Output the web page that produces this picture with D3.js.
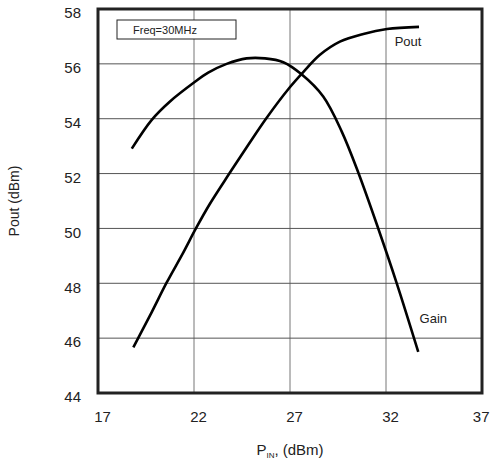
<!DOCTYPE html>
<html>
<head>
<meta charset="utf-8">
<script src="https://cdn.jsdelivr.net/npm/d3@7"></script>
<style>
  html, body { margin: 0; padding: 0; background: #fff; }
  text { font-family: "Liberation Sans", Arial, sans-serif; fill: #222; }
</style>
</head>
<body>
<div id="chart"></div>
<script>
// ── Data ──────────────────────────────────────────────────────────────

const xTicks = [17, 22, 27, 32, 37];
const yTicks = [44, 46, 48, 50, 52, 54, 56, 58];

const gainPin = [18.76, 19.8, 20.75, 22.0, 22.74, 23.7, 24.74, 25.7, 26.65, 27.6, 28.73, 29.69, 30.56, 31.6, 32.56, 33.68];
const gainVal = [52.91, 53.96, 54.63, 55.32, 55.68, 56.0, 56.2, 56.2, 56.06, 55.62, 54.81, 53.54, 52.03, 49.99, 48.0, 45.5];

const poutPin = [18.84, 19.8, 20.58, 21.44, 22.1, 22.83, 23.84, 24.83, 25.75, 26.96, 27.69, 28.56, 29.6, 30.82, 32.05, 33.72];
const poutVal = [45.66, 46.95, 48.03, 49.12, 50.0, 50.9, 52.0, 53.05, 54.0, 55.12, 55.7, 56.33, 56.81, 57.09, 57.27, 57.35];

const seriesNames = ["Gain", "Pout"];
const legendText = "Freq=30MHz";

// ── Setup ─────────────────────────────────────────────────────────────

const W = 490, H = 460;
const m = { left: 98, right: 8, top: 9, bottom: 67 };

const svg = d3.select("#chart").append("svg").attr("width", W).attr("height", H);

const x = d3.scaleLinear().domain([17, 37]).range([m.left, W - m.right]);
const y = d3.scaleLinear().domain([44, 58]).range([H - m.bottom, m.top]);

// ── Grid ──────────────────────────────────────────────────────────────

const grid = svg.append("g");
grid.selectAll("line.v").data(xTicks.slice(1, -1)).join("line").attr("class", "v")
  .attr("x1", d => x(d)).attr("x2", d => x(d))
  .attr("y1", y(44)).attr("y2", y(58))
  .attr("stroke", "#777").attr("stroke-width", 1);
grid.selectAll("line.h").data(yTicks.slice(1, -1)).join("line").attr("class", "h")
  .attr("x1", x(17)).attr("x2", x(37))
  .attr("y1", d => y(d)).attr("y2", d => y(d))
  .attr("stroke", "#555").attr("stroke-width", 1);

// ── Axes (labels only, frame drawn separately) ────────────────────────

const xAxis = svg.append("g").attr("transform", `translate(4,${y(44)})`)
  .call(d3.axisBottom(x).tickValues(xTicks).tickSize(0).tickPadding(18));
const yAxis = svg.append("g").attr("transform", `translate(${x(17) - 17},4)`)
  .call(d3.axisLeft(y).tickValues(yTicks).tickSize(0).tickPadding(0));
[xAxis, yAxis].forEach(g => {
  g.select(".domain").remove();
  g.selectAll("text").attr("font-size", 15).attr("fill", "#222")
    .attr("font-family", "Liberation Sans, Arial, sans-serif");
});
// last x label sits against the right edge
xAxis.selectAll(".tick").filter(d => d === 37).select("text")
  .attr("text-anchor", "end").attr("x", W - 1 - x(37) - 4);

// ── Frame ─────────────────────────────────────────────────────────────

svg.append("rect")
  .attr("x", x(17)).attr("y", y(58))
  .attr("width", x(37) - x(17)).attr("height", y(44) - y(58))
  .attr("fill", "none").attr("stroke", "#222").attr("stroke-width", 3);

// ── Lines ─────────────────────────────────────────────────────────────

const line = d3.line().x(d => x(d[0])).y(d => y(d[1])).curve(d3.curveCatmullRom.alpha(0.5));
const series = [
  d3.zip(gainPin, gainVal),
  d3.zip(poutPin, poutVal),
];
svg.append("g").selectAll("path").data(series).join("path")
  .attr("d", line)
  .attr("fill", "none").attr("stroke", "#000").attr("stroke-width", 2.6)
  .attr("stroke-linejoin", "round");

// ── Curve labels ──────────────────────────────────────────────────────

svg.append("text").attr("x", x(33.75)).attr("y", y(46.55)).attr("font-size", 13).text(seriesNames[0]);
svg.append("text").attr("x", x(32.45)).attr("y", y(56.65)).attr("font-size", 13).text(seriesNames[1]);

// ── Legend box ────────────────────────────────────────────────────────

svg.append("rect").attr("x", 117).attr("y", 20).attr("width", 119).attr("height", 19)
  .attr("fill", "#fff").attr("stroke", "#222").attr("stroke-width", 1);
svg.append("text").attr("x", 133).attr("y", 34).attr("font-size", 11).text(legendText);

// ── Axis titles ───────────────────────────────────────────────────────

const xt = svg.append("text").attr("x", 290).attr("y", 455).attr("text-anchor", "middle").attr("font-size", 15);
xt.append("tspan").text("P");
xt.append("tspan").attr("font-size", 8).attr("dy", 3).text("IN");
xt.append("tspan").attr("dy", -3).text(", (dBm)");

svg.append("text").attr("transform", `translate(19,${y(51)}) rotate(-90)`)
  .attr("text-anchor", "middle").attr("font-size", 14).text("Pout (dBm)");
</script>
</body>
</html>
